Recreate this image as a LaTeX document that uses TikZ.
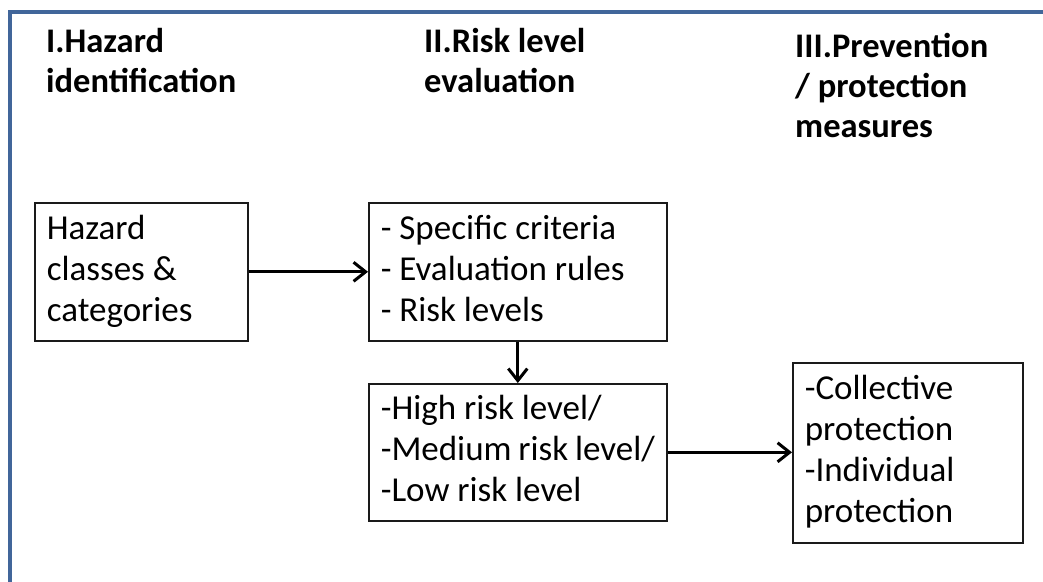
\documentclass[tikz,border=0pt]{standalone}
\usepackage{fontspec}
\setmainfont{Carlito}
\usetikzlibrary{arrows.meta}
\definecolor{framecol}{HTML}{41669A}
\definecolor{boxline}{HTML}{1A1A1A}
\begin{document}
\begin{tikzpicture}[x=1pt,y=-1pt,
  heading/.style={anchor=north west,inner sep=0pt,align=left,text width=#1,
    font=\fontsize{34.5}{40}\selectfont\bfseries,
    execute at begin node={\spaceskip=0pt\xspaceskip=0pt\relax\strut},
    execute at end node=\strut},
  stepbox/.style n args={2}{draw=boxline,line width=1.6pt,rectangle,anchor=north west,
    minimum width=#1,minimum height=#2,text width=#1-24pt,inner xsep=12pt,inner ysep=0pt,
    align=left,font=\fontsize{35}{41}\selectfont,
    execute at begin node={\spaceskip=0pt\xspaceskip=0pt\relax\strut},
    execute at end node=\strut},
  flow/.style={line width=3.2pt,-{Straight Barb[length=12pt,width=19pt,line width=3pt]}}
]
\useasboundingbox (0,0) rectangle (1043,581);
\begin{scope}
  \clip (0,0) rectangle (1043,581);
  \draw[framecol,line width=3.2pt] (10,12) rectangle (1200,800);
\end{scope}

% column headings
\node[heading=300pt] (h1) at (46,24) {I.Hazard\\identification};
\node[heading=300pt] (h2) at (424,24) {II.Risk level\\evaluation};
\node[heading=240pt] (h3) at (795,29) {III.Prevention\\/ protection\\measures};

% process boxes
\node[stepbox={213pt}{138pt}] (haz) at (34,202) {Hazard\\classes \&\\categories};
\node[stepbox={298pt}{138pt}] (eval) at (368,202) {- Specific criteria\\- Evaluation rules\\- Risk levels};
\node[stepbox={298pt}{137pt}] (lev) at (368,383) {-High risk level/\\-Medium risk level/\\-Low risk level};
\node[stepbox={230pt}{180pt}] (prot) at (792,362) {-Collective\\protection\\-Individual\\protection};

% connectors
\draw[flow] (haz.east) -- (eval.west);
\draw[flow] (eval.south) -- (lev.north);
\draw[flow] (lev.east) -- (lev.east -| prot.west);
\end{tikzpicture}
\end{document}
